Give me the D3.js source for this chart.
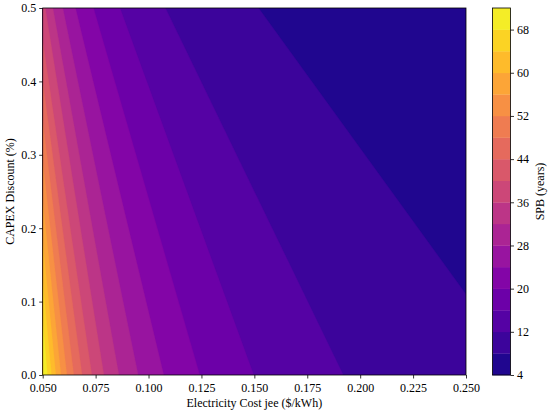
<!DOCTYPE html>
<html><head><meta charset="utf-8">
<script src="https://cdn.jsdelivr.net/npm/d3@7"></script>
<style>
html,body{margin:0;padding:0;background:#fff;}
svg{display:block;font-family:"Liberation Serif","Times New Roman",serif;}
</style></head>
<body>
<svg id="chart" width="550" height="413"></svg>
<script>
// Filled-contour band edges (SPB levels, years)
const levels = [4, 8, 12, 16, 20, 24, 28, 32, 36, 40, 44, 48, 52, 56, 60, 64, 68, 72];
// Each contour line read as two points (electricity cost, CAPEX discount)
const contourLevels = [8, 12, 16, 20, 24, 28, 32, 36, 40, 44, 48, 52, 56, 60, 64, 68];
const startCost = [0.25, 0.192, 0.1497, 0.1242, 0.1072, 0.0951, 0.086, 0.0789, 0.0732, 0.0686, 0.0647, 0.0614, 0.0586, 0.0562, 0.0541, 0.0522];
const startDisc = [0.11, 0, 0, 0, 0, 0, 0, 0, 0, 0, 0, 0, 0, 0, 0, 0];
const endCost   = [0.152, 0.108, 0.0865, 0.074, 0.0655, 0.0595, 0.0548, 0.0512, 0.05, 0.05, 0.05, 0.05, 0.05, 0.05, 0.05, 0.05];
const endDisc   = [0.5, 0.5, 0.5, 0.5, 0.5, 0.5, 0.5, 0.5, 0.455, 0.40, 0.346, 0.291, 0.237, 0.182, 0.128, 0.073];
const xTicks = [0.05, 0.075, 0.1, 0.125, 0.15, 0.175, 0.2, 0.225, 0.25];
const yTicks = [0, 0.1, 0.2, 0.3, 0.4, 0.5];
const cbTicks = [4, 12, 20, 28, 36, 44, 52, 60, 68];

const svg = d3.select("#chart");
const L = 42.7, R = 466, T = 8, B = 375;
const x = d3.scaleLinear().domain([0.05, 0.25]).range([L, R]);
const y = d3.scaleLinear().domain([0, 0.5]).range([B, T]);
const vmin = levels[0], vmax = levels[levels.length - 1];
const bandColor = lo => d3.interpolatePlasma((lo + 2 - vmin) / (vmax - vmin));

svg.append("clipPath").attr("id", "clip").append("rect")
  .attr("x", L).attr("y", T).attr("width", R - L).attr("height", B - T);
const g = svg.append("g").attr("clip-path", "url(#clip)");

// base band
g.append("rect").attr("x", L).attr("y", T).attr("width", R - L).attr("height", B - T)
  .attr("fill", bandColor(levels[0]));

// region where SPB >= level: everything left of the line
contourLevels.forEach((lv, i) => {
  const c1 = startCost[i], d1 = startDisc[i], c2 = endCost[i], d2 = endDisc[i];
  const costAt = d => c1 + (c2 - c1) * (d - d1) / (d2 - d1);
  const dLo = -0.5, dHi = 1.0;
  const pts = [
    [costAt(dLo), dLo], [costAt(dHi), dHi], [-1, dHi], [-1, dLo]
  ].map(p => [x(p[0]), y(p[1])]);
  g.append("path").attr("d", d3.line()(pts) + "Z")
    .attr("fill", bandColor(lv)).attr("stroke", bandColor(lv)).attr("stroke-width", 0.3);
});

// frame
svg.append("rect").attr("x", L).attr("y", T).attr("width", R - L).attr("height", B - T)
  .attr("fill", "none").attr("stroke", "#000").attr("stroke-width", 0.8);

// axes
const xAxis = svg.append("g").attr("transform", `translate(0,${B})`)
  .call(d3.axisBottom(x).tickValues(xTicks).tickFormat(d3.format(".3f")).tickSizeOuter(0).tickSize(3.5).tickPadding(5));
const yAxis = svg.append("g").attr("transform", `translate(${L},0)`)
  .call(d3.axisLeft(y).tickValues(yTicks).tickFormat(d3.format(".1f")).tickSizeOuter(0).tickSize(3.5).tickPadding(3));
[xAxis, yAxis].forEach(a => {
  a.select(".domain").remove();
  a.selectAll("text").attr("font-family", "Liberation Serif, serif").attr("font-size", 12).attr("fill", "#000");
  a.selectAll("line").attr("stroke", "#000").attr("stroke-width", 0.8);
});

svg.append("text").attr("x", (L + R) / 2).attr("y", 407).attr("text-anchor", "middle")
  .attr("font-size", 12).text("Electricity Cost jee ($/kWh)");
svg.append("text").attr("transform", `translate(14,${(T + B) / 2}) rotate(-90)`)
  .attr("text-anchor", "middle").attr("font-size", 12).text("CAPEX Discount (%)");

// colorbar
const CL = 492.5, CR = 510.5;
const cy = d3.scaleLinear().domain([vmin, vmax]).range([B, T]);
const cb = svg.append("g");
levels.slice(0, -1).forEach((lo, i) => {
  const hi = levels[i + 1];
  cb.append("rect").attr("x", CL).attr("y", cy(hi)).attr("width", CR - CL)
    .attr("height", cy(lo) - cy(hi) + 0.3).attr("fill", bandColor(lo));
});
cb.append("rect").attr("x", CL).attr("y", T).attr("width", CR - CL).attr("height", B - T)
  .attr("fill", "none").attr("stroke", "#000").attr("stroke-width", 0.8);
const cAxis = svg.append("g").attr("transform", `translate(${CR},0)`)
  .call(d3.axisRight(cy).tickValues(cbTicks).tickSize(3.5).tickPadding(3).tickSizeOuter(0));
cAxis.select(".domain").remove();
cAxis.selectAll("text").attr("font-family", "Liberation Serif, serif").attr("font-size", 12).attr("fill", "#000");
cAxis.selectAll("line").attr("stroke", "#000").attr("stroke-width", 0.8);
svg.append("text").attr("transform", `translate(544,${(T + B) / 2}) rotate(-90)`)
  .attr("text-anchor", "middle").attr("font-size", 12).text("SPB (years)");
</script>
</body></html>
